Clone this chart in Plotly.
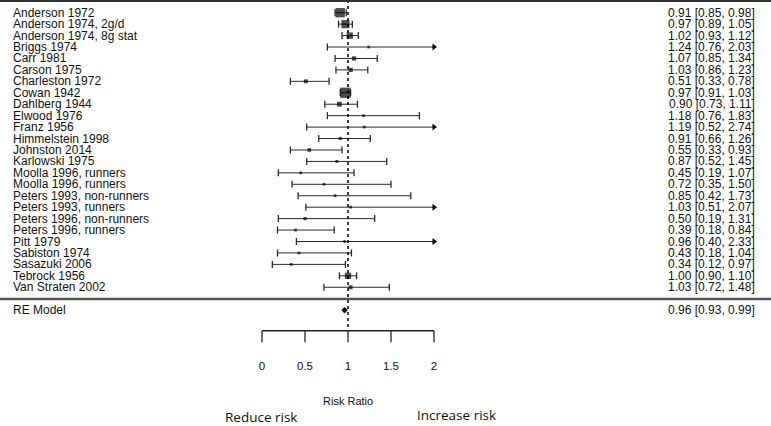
import plotly.graph_objects as go
import math

studies = ["Anderson 1972", "Anderson 1974, 2g/d", "Anderson 1974, 8g stat", "Briggs 1974",
           "Carr 1981", "Carson 1975", "Charleston 1972", "Cowan 1942", "Dahlberg 1944",
           "Elwood 1976", "Franz 1956", "Himmelstein 1998", "Johnston 2014", "Karlowski 1975",
           "Moolla 1996, runners", "Moolla 1996, runners", "Peters 1993, non-runners",
           "Peters 1993, runners", "Peters 1996, non-runners", "Peters 1996, runners",
           "Pitt 1979", "Sabiston 1974", "Sasazuki 2006", "Tebrock 1956", "Van Straten 2002"]
rr = [0.91, 0.97, 1.02, 1.24, 1.07, 1.03, 0.51, 0.97, 0.90, 1.18, 1.19, 0.91, 0.55, 0.87,
      0.45, 0.72, 0.85, 1.03, 0.50, 0.39, 0.96, 0.43, 0.34, 1.00, 1.03]
ci_low = [0.85, 0.89, 0.93, 0.76, 0.85, 0.86, 0.33, 0.91, 0.73, 0.76, 0.52, 0.66, 0.33, 0.52,
          0.19, 0.35, 0.42, 0.51, 0.19, 0.18, 0.40, 0.18, 0.12, 0.90, 0.72]
ci_high = [0.98, 1.05, 1.12, 2.03, 1.34, 1.23, 0.78, 1.03, 1.11, 1.83, 2.74, 1.26, 0.93, 1.45,
           1.07, 1.50, 1.73, 2.07, 1.31, 0.84, 2.33, 1.04, 0.97, 1.10, 1.48]
weights = [16, 12, 7, 1, 3, 3, 2.5, 20, 4, 1, 1, 1.5, 2, 1.2, 1, 1, 1, 1, 1.5, 1, 1, 1, 1, 7, 2.5]

re_label = "RE Model"
re_est, re_low, re_high = 0.96, 0.93, 0.99

ref_value = 1.0
axis_ticks = [0, 0.5, 1, 1.5, 2]
axis_tick_labels = ["0", "0.5", "1", "1.5", "2"]
axis_title = "Risk Ratio"
left_note = "Reduce risk"
right_note = "Increase risk"

W, H = 771, 426
x0px, ppu = 262.0, 86.0       # pixel of x=0, pixels per unit
y0px, ppr = 12.7, 11.44       # pixel of row 0, pixels per row
xr = [-x0px / ppu, (W - x0px) / ppu]
yr = [(H - y0px) / ppr, -y0px / ppr]

xmax = axis_ticks[-1]
n = len(studies)
rows = list(range(n))
re_row = n + 1
sep_row = n + 0.03
axis_row = 27.8
ticklab_row = 31.0
title_row = 33.9
note_row = 35.3

def xpx_to_data(px):
    return (px - x0px) / ppu

FONT = "Liberation Sans, Arial, sans-serif"
fig = go.Figure()

# CI lines
lx, ly = [], []
for i in rows:
    lx += [ci_low[i], min(ci_high[i], xmax), None]
    ly += [i, i, None]
fig.add_trace(go.Scatter(x=lx, y=ly, mode="lines", line=dict(color="#2a2a2a", width=1),
                         hoverinfo="skip", showlegend=False))
# caps
cx, cy = [], []
for i in rows:
    cx.append(ci_low[i]); cy.append(i)
    if ci_high[i] <= xmax:
        cx.append(ci_high[i]); cy.append(i)
fig.add_trace(go.Scatter(x=cx, y=cy, mode="markers",
                         marker=dict(symbol="line-ns", size=5, line=dict(color="#2a2a2a", width=1.3)),
                         hoverinfo="skip", showlegend=False))
# arrows for clipped CIs
ax_, ay_ = [], []
for i in rows:
    if ci_high[i] > xmax:
        ax_.append(xmax); ay_.append(i)
fig.add_trace(go.Scatter(x=ax_, y=ay_, mode="markers",
                         marker=dict(symbol="triangle-right", size=6, color="black"),
                         hoverinfo="skip", showlegend=False))
# point estimates
fig.add_trace(go.Scatter(x=rr, y=rows, mode="markers",
                         marker=dict(symbol="square", size=[2.2 * math.sqrt(w) + 0.5 for w in weights],
                                     color="black", line=dict(width=0)),
                         hoverinfo="skip", showlegend=False))
# RE diamond
dh = 0.25
fig.add_trace(go.Scatter(x=[re_low, re_est, re_high, re_est, re_low],
                         y=[re_row, re_row - dh, re_row, re_row + dh, re_row],
                         mode="lines", fill="toself", fillcolor="black",
                         line=dict(color="black", width=1), hoverinfo="skip", showlegend=False))

# reference dotted line
fig.add_trace(go.Scatter(x=[ref_value, ref_value], y=[-1.1, axis_row], mode="lines",
                         line=dict(color="black", width=1.5, dash="dot"),
                         hoverinfo="skip", showlegend=False))

# x axis drawn manually
tx, ty = [axis_ticks[0], axis_ticks[-1], None], [axis_row, axis_row, None]
for t in axis_ticks:
    tx += [t, t, None]
    ty += [axis_row, axis_row + 1.0, None]
fig.add_trace(go.Scatter(x=tx, y=ty, mode="lines", line=dict(color="#222", width=1.3),
                         hoverinfo="skip", showlegend=False))
fig.add_trace(go.Scatter(x=axis_ticks, y=[ticklab_row] * len(axis_ticks), mode="text",
                         text=axis_tick_labels, textfont=dict(family=FONT, size=11.5, color="#111"),
                         hoverinfo="skip", showlegend=False))

ann = []
for i in rows:
    ann.append(dict(x=xpx_to_data(11), y=i, text=studies[i], xanchor="left", yanchor="middle",
                    showarrow=False, font=dict(family=FONT, size=12, color="#111")))
    ann.append(dict(x=xpx_to_data(757), y=i,
                    text=f"{rr[i]:.2f} [{ci_low[i]:.2f}, {ci_high[i]:.2f}]",
                    xanchor="right", yanchor="middle", showarrow=False,
                    font=dict(family=FONT, size=12, color="#111")))
ann.append(dict(x=xpx_to_data(11), y=re_row, text=re_label, xanchor="left", yanchor="middle",
                showarrow=False, font=dict(family=FONT, size=12, color="#111")))
ann.append(dict(x=xpx_to_data(757), y=re_row,
                text=f"{re_est:.2f} [{re_low:.2f}, {re_high:.2f}]",
                xanchor="right", yanchor="middle", showarrow=False,
                font=dict(family=FONT, size=12, color="#111")))
ann.append(dict(x=ref_value, y=title_row, text=axis_title, xanchor="center", yanchor="middle",
                showarrow=False, font=dict(family=FONT, size=11, color="#111")))
ann.append(dict(x=xpx_to_data(223), y=note_row, text=left_note, xanchor="left", yanchor="middle",
                showarrow=False, font=dict(family="Open Sans, sans-serif", size=13.5, color="#111")))
ann.append(dict(x=xpx_to_data(415), y=note_row - 0.15, text=right_note, xanchor="left", yanchor="middle",
                showarrow=False, font=dict(family="Open Sans, sans-serif", size=13.5, color="#111")))

shapes = [
    dict(type="line", xref="paper", yref="paper", x0=0, x1=1, y0=0.9985, y1=0.9985,
         line=dict(color="#333", width=2.5)),
    dict(type="line", xref="paper", yref="y", x0=0, x1=1, y0=sep_row, y1=sep_row,
         line=dict(color="#555", width=2.5)),
]

fig.update_layout(
    width=W, height=H, margin=dict(l=0, r=0, t=0, b=0),
    paper_bgcolor="white", plot_bgcolor="white",
    xaxis=dict(range=xr, visible=False, fixedrange=True),
    yaxis=dict(range=yr, visible=False, fixedrange=True),
    annotations=ann, shapes=shapes, showlegend=False,
)
fig.write_html("out.html", config={"displayModeBar": False},
               post_script="document.body.style.margin='0px';document.body.style.overflow='hidden';")
